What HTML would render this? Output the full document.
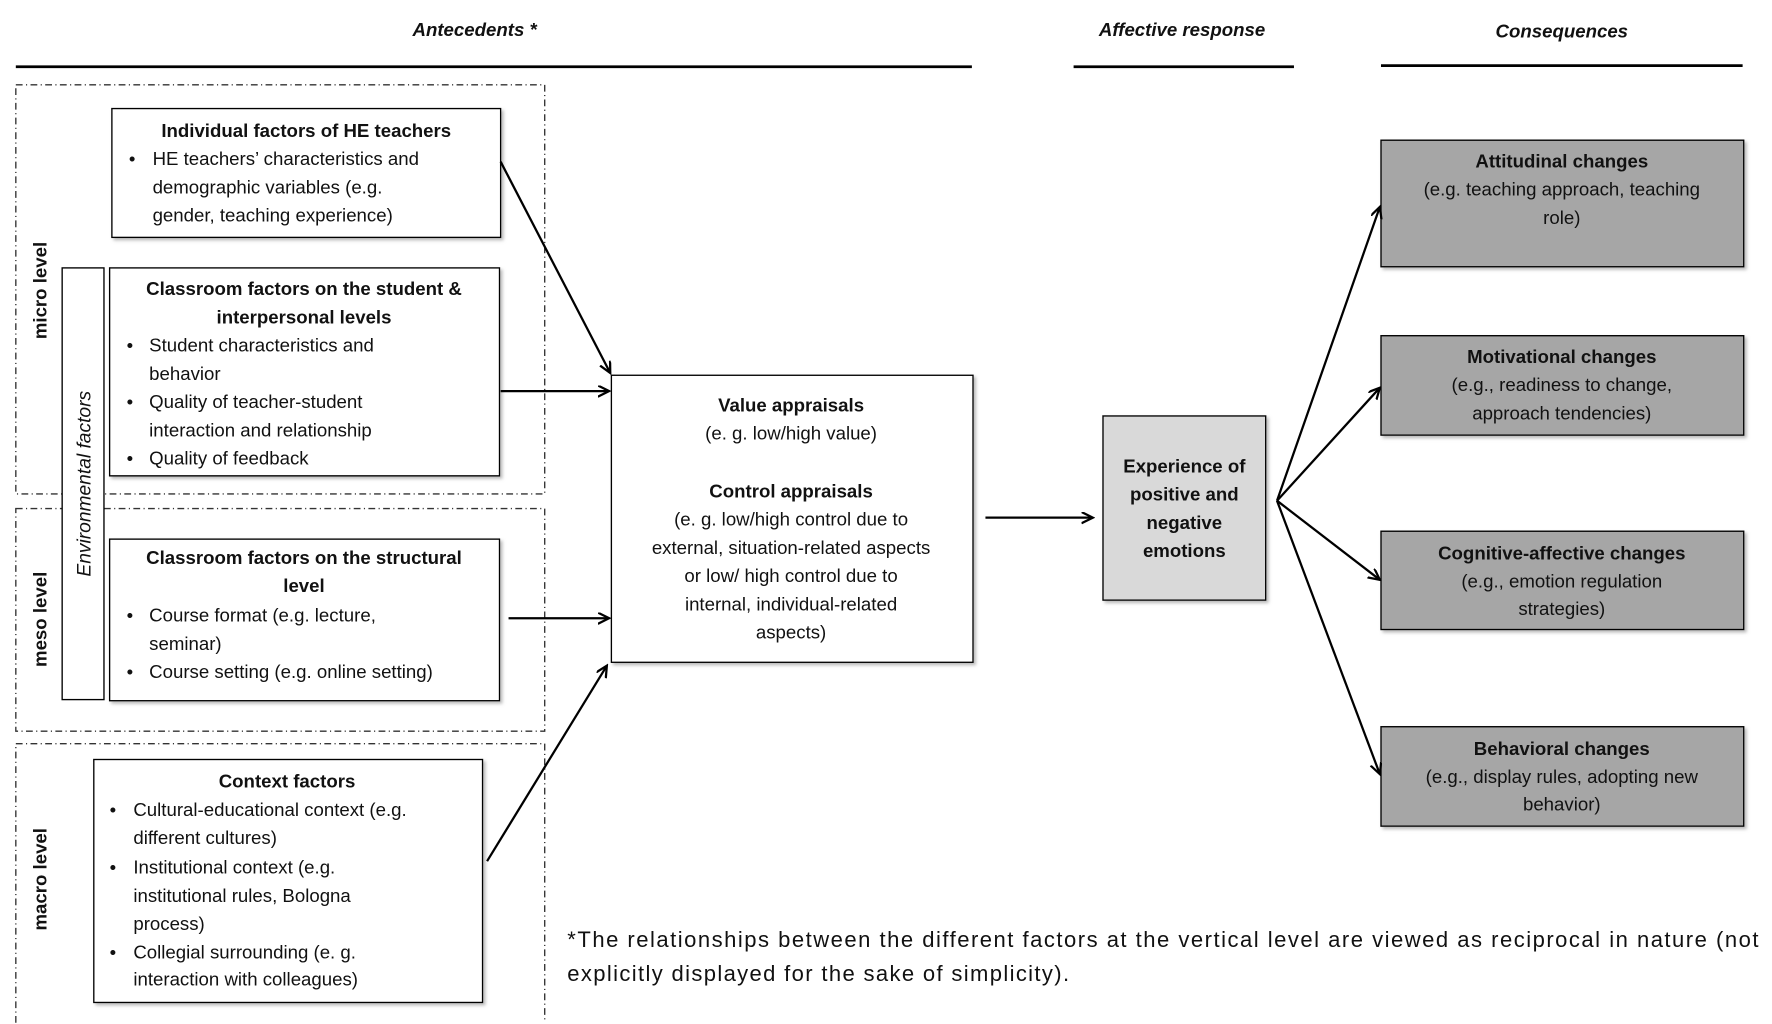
<!DOCTYPE html>
<html><head><meta charset="utf-8"><style>
html,body{margin:0;padding:0;background:#fff;}
svg{display:block;}
text{font-family:"Liberation Sans",sans-serif;font-size:16.5px;fill:#111;}
.b{font-weight:bold;}
.c{text-anchor:middle;}
.h{font-style:italic;font-weight:bold;font-size:16.5px;}
</style></head><body>
<svg width="1772" height="1024" viewBox="0 0 1568 906" xmlns="http://www.w3.org/2000/svg">
<defs>
<marker id="a" markerWidth="12" markerHeight="12" refX="10" refY="5" orient="auto" markerUnits="userSpaceOnUse"><path d="M0,0 L10,5 L0,10" fill="none" stroke="#000" stroke-width="2"/></marker>
<filter id="s" x="-5%" y="-5%" width="115%" height="115%"><feDropShadow dx="2" dy="2" stdDeviation="1.5" flood-color="#888" flood-opacity="0.6"/></filter>
</defs>
<text x="420" y="32" class="h c">Antecedents *</text>
<text x="1046" y="32" class="h c">Affective response</text>
<text x="1382" y="33" class="h c">Consequences</text>
<g stroke="#000" stroke-width="2.5">
<line x1="14" y1="59" x2="860" y2="59"/>
<line x1="950" y1="59" x2="1145" y2="59"/>
<line x1="1222" y1="58" x2="1542" y2="58"/>
</g>
<g fill="none" stroke="#333" stroke-width="1.2" stroke-dasharray="6,3,1,3">
<rect x="14" y="75" width="468" height="362"/>
<rect x="14" y="450" width="468" height="197"/>
<path d="M14,905 L14,658 L482,658 L482,905"/>
</g>
<rect x="55" y="237" width="37" height="382" fill="#fff" stroke="#000" stroke-width="1.2"/>
<text transform="translate(80,428) rotate(-90)" class="c" style="font-style:italic;font-size:17px">Environmental factors</text>
<text transform="translate(41,257) rotate(-90)" class="b c">micro level</text>
<text transform="translate(41,548) rotate(-90)" class="b c">meso level</text>
<text transform="translate(41,778) rotate(-90)" class="b c">macro level</text>
<g fill="#fff" stroke="#000" stroke-width="1.2" filter="url(#s)">
<rect x="99" y="96" width="344" height="114"/>
<rect x="97" y="237" width="345" height="184"/>
<rect x="97" y="477" width="345" height="143"/>
<rect x="83" y="672" width="344" height="215"/>
<rect x="541" y="332" width="320" height="254"/>
<rect x="976" y="368" width="144" height="163" fill="#d9d9d9"/>
<rect x="1222" y="124" width="321" height="112" fill="#a6a6a6"/>
<rect x="1222" y="297" width="321" height="88" fill="#a6a6a6"/>
<rect x="1222" y="470" width="321" height="87" fill="#a6a6a6"/>
<rect x="1222" y="643" width="321" height="88" fill="#a6a6a6"/>
</g>
<text x="271" y="121" class="b c">Individual factors of HE teachers</text>
<text x="114" y="146">•</text><text x="135" y="146">HE teachers’ characteristics and</text>
<text x="135" y="171">demographic variables (e.g.</text>
<text x="135" y="196">gender, teaching experience)</text>
<text x="269" y="261" class="b c">Classroom factors on the student &amp;</text>
<text x="269" y="286" class="b c">interpersonal levels</text>
<text x="112" y="311">•</text><text x="132" y="311">Student characteristics and</text>
<text x="132" y="336">behavior</text>
<text x="112" y="361">•</text><text x="132" y="361">Quality of teacher-student</text>
<text x="132" y="386">interaction and relationship</text>
<text x="112" y="411">•</text><text x="132" y="411">Quality of feedback</text>
<text x="269" y="499" class="b c">Classroom factors on the structural</text>
<text x="269" y="524" class="b c">level</text>
<text x="112" y="550">•</text><text x="132" y="550">Course format (e.g. lecture,</text>
<text x="132" y="575">seminar)</text>
<text x="112" y="600">•</text><text x="132" y="600">Course setting (e.g. online setting)</text>
<text x="254" y="697" class="b c">Context factors</text>
<text x="97" y="722">•</text><text x="118" y="722">Cultural-educational context (e.g.</text>
<text x="118" y="747">different cultures)</text>
<text x="97" y="773">•</text><text x="118" y="773">Institutional context (e.g.</text>
<text x="118" y="798">institutional rules, Bologna</text>
<text x="118" y="823">process)</text>
<text x="97" y="848">•</text><text x="118" y="848">Collegial surrounding (e. g.</text>
<text x="118" y="872">interaction with colleagues)</text>
<text x="700" y="364" class="b c">Value appraisals</text>
<text x="700" y="389" class="c">(e. g. low/high value)</text>
<text x="700" y="440" class="b c">Control appraisals</text>
<text x="700" y="465" class="c">(e. g. low/high control due to</text>
<text x="700" y="490" class="c">external, situation-related aspects</text>
<text x="700" y="515" class="c">or low/ high control due to</text>
<text x="700" y="540" class="c">internal, individual-related</text>
<text x="700" y="565" class="c">aspects)</text>
<text x="1048" y="418" class="b c">Experience of</text>
<text x="1048" y="443" class="b c">positive and</text>
<text x="1048" y="468" class="b c">negative</text>
<text x="1048" y="493" class="b c">emotions</text>
<text x="1382" y="148" class="b c">Attitudinal changes</text>
<text x="1382" y="173" class="c">(e.g. teaching approach, teaching</text>
<text x="1382" y="198" class="c">role)</text>
<text x="1382" y="321" class="b c">Motivational changes</text>
<text x="1382" y="346" class="c">(e.g., readiness to change,</text>
<text x="1382" y="371" class="c">approach tendencies)</text>
<text x="1382" y="495" class="b c">Cognitive-affective changes</text>
<text x="1382" y="520" class="c">(e.g., emotion regulation</text>
<text x="1382" y="544" class="c">strategies)</text>
<text x="1382" y="668" class="b c">Behavioral changes</text>
<text x="1382" y="693" class="c">(e.g., display rules, adopting new</text>
<text x="1382" y="717" class="c">behavior)</text>
<g stroke="#000" stroke-width="2" fill="none" marker-end="url(#a)">
<line x1="443" y1="143" x2="540" y2="330"/>
<line x1="443" y1="346" x2="539" y2="346"/>
<line x1="450" y1="547" x2="539" y2="547"/>
<line x1="431" y1="762" x2="537" y2="589"/>
<line x1="872" y1="458" x2="967" y2="458"/>
<line x1="1130" y1="443" x2="1221" y2="183"/>
<line x1="1130" y1="443" x2="1221" y2="343"/>
<line x1="1130" y1="443" x2="1221" y2="513"/>
<line x1="1130" y1="443" x2="1221" y2="685"/>
</g>
<text x="502" y="838" style="font-size:19.5px" textLength="1054" lengthAdjust="spacing">*The relationships between the different factors at the vertical level are viewed as reciprocal in nature (not</text>
<text x="502" y="868" style="font-size:19.5px" textLength="444" lengthAdjust="spacing">explicitly displayed for the sake of simplicity).</text>
</svg>
</body></html>
